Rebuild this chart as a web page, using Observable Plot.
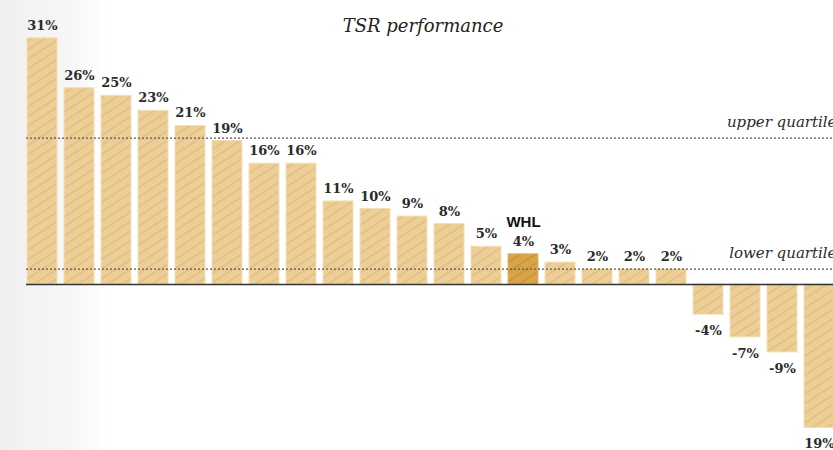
<!DOCTYPE html>
<html><head><meta charset="utf-8">
<script src="https://cdn.jsdelivr.net/npm/d3@7"></script>
<script src="https://cdn.jsdelivr.net/npm/@observablehq/plot@0.6"></script>
<style>
html,body{margin:0;padding:0;background:#fff;overflow:hidden;}
#chart{width:833px;height:450px;background:linear-gradient(to right,#efefef 0px,#f3f3f3 28px,#f7f7f7 75px,#ffffff 106px);}
</style></head><body><div id="chart"></div>
<script>
const companies = ["C1","C2","C3","C4","C5","C6","C7","C8","C9","C10","C11","C12","C13","WHL","C15","C16","C17","C18","C19","C20","C21","C22"];
const tsr = [32.6,26,25,23,21,19,16,16,11,10,9,8,5,4,2.9,2,2,2,-4,-7,-9,-19];
const tsrLabels = ["31%","26%","25%","23%","21%","19%","16%","16%","11%","10%","9%","8%","5%","4%","3%","2%","2%","2%","-4%","-7%","-9%","19%"];
const highlight = "WHL";
const quartileNames = ["upper quartile","lower quartile"];
const quartileValues = [19.4, 2.03];
const title = "TSR performance";

const data = companies.map((c,i)=>({name:c, value:tsr[i], label:tsrLabels[i]}));
const others = data.filter(d=>d.name!==highlight);
const hi = data.filter(d=>d.name===highlight);

const patterns = () => {
  const defs = d3.create("svg:defs");
  const mk = (id, base, stripe) => {
    const p = defs.append("pattern").attr("id", id).attr("patternUnits","userSpaceOnUse")
      .attr("width", 8).attr("height", 8).attr("patternTransform","rotate(-33)");
    p.append("rect").attr("width",8).attr("height",8).attr("fill",base);
    p.append("rect").attr("y",0).attr("width",8).attr("height",1.6).attr("fill",stripe);
  };
  mk("hatch", "#ecce96", "#e2bf80");
  mk("hatchHi", "#d8a447", "#c9943a");
  return defs.node();
};

const serif = "DejaVu Serif";
const chart = Plot.plot({
  width: 833, height: 450,
  marginLeft: 26, marginRight: 0, marginTop: 0, marginBottom: 0,
  style: {background: "transparent", fontFamily: serif, overflow: "hidden"},
  x: {type: "band", domain: companies, range: [26, 835.4], paddingInner: 0.183, paddingOuter: 0, axis: null},
  y: {domain: [-20, 35], range: [284 + 20*7.55, 284 - 35*7.55], axis: null},
  marks: [
    patterns,
    Plot.barY(others, {x: "name", y: "value", fill: "url(#hatch)", stroke: "#f3dfb6", strokeWidth: 1}),
    Plot.barY(hi, {x: "name", y: "value", fill: "url(#hatchHi)", stroke: "#e2b764", strokeWidth: 1}),
    Plot.ruleY(quartileValues, {stroke: "#555", strokeDasharray: "2,2", strokeWidth: 1.3}),
    Plot.ruleY([0], {stroke: "#333", strokeWidth: 1.5}),
    Plot.text(data.filter(d=>d.value>=0), {x: "name", y: "value", text: "label", lineAnchor: "bottom", dy: -8.5,
      fontFamily: serif, fontWeight: "bold", fontSize: 13, fill: "#2b2b2b"}),
    Plot.text(data.filter(d=>d.value<0), {x: "name", y: "value", text: "label", lineAnchor: "top", dy: 11,
      fontFamily: serif, fontWeight: "bold", fontSize: 13, fill: "#2b2b2b"}),
    Plot.text(hi, {x: "name", y: "value", text: "name", lineAnchor: "bottom", dy: -27.8,
      fontFamily: "Liberation Sans", fontWeight: 900, fontSize: 15, fill: "#111"}),
    Plot.text(quartileNames, {y: quartileValues, text: d=>d, frameAnchor: "right", textAnchor: "end", lineAnchor: "bottom",
      dx: 3, dy: -11, fontFamily: serif, fontStyle: "italic", fontSize: 15, fill: "#2b2b2b"}),
    Plot.text([title], {frameAnchor: "top", lineAnchor: "bottom", dy: 31, dx: -7, text: d=>d,
      fontFamily: serif, fontStyle: "italic", fontSize: 18, fill: "#222"})
  ]
});
document.getElementById("chart").append(chart);
</script></body></html>
